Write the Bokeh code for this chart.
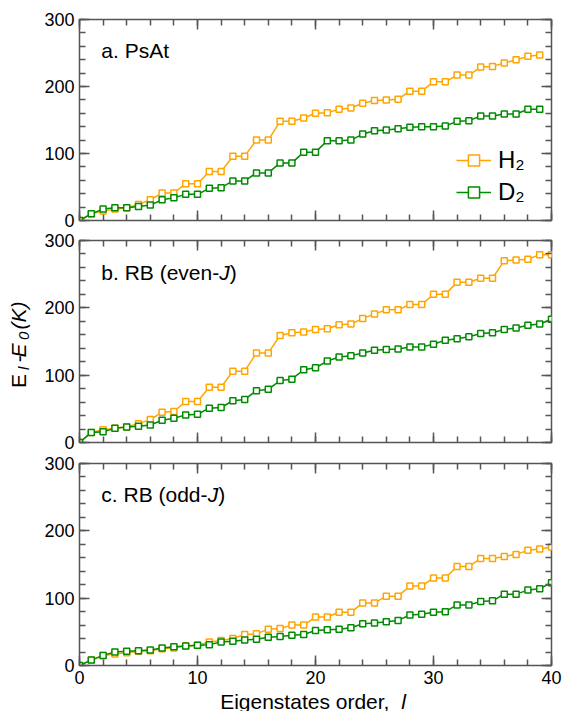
import math
from bokeh.plotting import figure
from bokeh.models import (LinearAxis, Range1d, SingleIntervalTicker, Label,
                          Legend, LegendItem, CustomJSTickFormatter)
from bokeh.layouts import column, row
from bokeh.embed import file_html
from bokeh.resources import INLINE

# ---------------- data ----------------
order_psat = list(range(40))
h2_psat = [0, 10, 14, 17, 19, 24, 31, 41, 41, 55, 55, 73, 73, 96, 96, 120, 120,
           148, 148, 153, 160, 161, 166, 168, 175, 179, 180, 181, 193, 193, 207,
           207, 217, 217, 229, 230, 235, 240, 245, 247]
d2_psat = [0, 10, 17, 19, 19, 21, 23, 31, 34, 39, 39, 48, 49, 59, 59, 71, 71,
           86, 86, 102, 102, 119, 119, 120, 129, 134, 135, 137, 139, 140, 140,
           141, 148, 149, 156, 156, 159, 159, 166, 166]

order_even = list(range(41))
h2_even = [0, 15, 19, 21, 23, 28, 34, 45, 46, 61, 61, 82, 82, 106, 106, 133, 133,
           159, 163, 164, 168, 169, 175, 176, 184, 191, 197, 197, 205, 205, 220,
           220, 238, 238, 244, 244, 270, 271, 272, 279, 279]
d2_even = [0, 15, 16, 21, 23, 24, 26, 33, 36, 41, 42, 51, 52, 62, 64, 77, 79,
           92, 94, 108, 111, 121, 127, 129, 133, 137, 138, 139, 142, 142, 146,
           152, 154, 157, 162, 163, 168, 170, 174, 176, 183]

order_odd = list(range(41))
h2_odd = [0, 8, 15, 17, 19, 21, 22, 25, 26, 29, 30, 35, 37, 40, 46, 47, 54, 55,
          60, 60, 72, 72, 79, 79, 93, 93, 103, 103, 118, 118, 130, 130, 147, 147,
          159, 159, 162, 165, 171, 173, 176]
d2_odd = [0, 8, 15, 20, 21, 22, 23, 26, 28, 29, 30, 31, 35, 36, 38, 39, 42, 43,
          45, 46, 52, 53, 54, 56, 62, 63, 65, 67, 75, 76, 79, 80, 90, 90, 95, 96,
          106, 106, 112, 114, 123]

x_ticks_interval = 10
y_ticks_interval = 100
series_names = ["H\u2082", "D\u2082"]

# ---------------- style ----------------
FONT = "Liberation Sans"
ORANGE = "#ffa500"
GREEN = "#008b00"
FRAME = "#555555"
STRIP = 34     # width of the y-title strip on the left
LEFT = 79 - STRIP  # left border of panels
FW = 472       # frame width


def style_axis(ax, interval, show_labels):
    ax.ticker = SingleIntervalTicker(interval=interval, num_minor_ticks=5)
    ax.axis_line_color = None
    ax.major_tick_in = 10
    ax.major_tick_out = 0
    ax.minor_tick_in = 6
    ax.minor_tick_out = 0
    ax.major_tick_line_color = FRAME
    ax.minor_tick_line_color = FRAME
    ax.major_tick_line_width = 1.5
    ax.minor_tick_line_width = 1.5
    ax.major_label_text_font = FONT
    ax.major_label_text_color = "black"
    if show_labels:
        ax.major_label_text_font_size = "18px"
        ax.major_label_standoff = 5
    else:
        ax.formatter = CustomJSTickFormatter(code="return ''")
        ax.major_label_text_font_size = "0px"
        ax.major_label_standoff = 0


def make_panel(xs, h2, d2, top, bottom, fh, show_x):
    p = figure(frame_width=FW, frame_height=fh, output_backend="svg",
               toolbar_location=None, x_range=Range1d(0, 40),
               y_range=Range1d(0, 300), min_border_left=LEFT,
               min_border_right=12, min_border_top=top,
               min_border_bottom=bottom, x_axis_location=None,
               y_axis_location=None)
    p.grid.visible = False
    p.outline_line_color = FRAME
    p.outline_line_width = 1.5
    bx = LinearAxis()
    style_axis(bx, x_ticks_interval, show_x)
    p.add_layout(bx, "below")
    tx = LinearAxis()
    style_axis(tx, x_ticks_interval, False)
    p.add_layout(tx, "above")
    ly = LinearAxis()
    style_axis(ly, y_ticks_interval, True)
    p.add_layout(ly, "left")
    ry = LinearAxis()
    style_axis(ry, y_ticks_interval, False)
    p.add_layout(ry, "right")

    lh = p.line(xs, h2, line_color=ORANGE, line_width=1.5)
    sh = p.scatter(xs, h2, marker="square", size=6, line_color=ORANGE,
                   line_width=1.5, fill_color="white")
    ld = p.line(xs, d2, line_color=GREEN, line_width=1.5)
    sd = p.scatter(xs, d2, marker="square", size=6, line_color=GREEN,
                   line_width=1.5, fill_color="white")
    return p, (lh, sh, ld, sd)


def lab(p, x, y, text, size="21px", style="normal", xo=0, yo=0, angle=0):
    p.add_layout(Label(x=x, y=y, text=text, text_font=FONT,
                       text_font_size=size, text_font_style=style,
                       text_color="black", text_baseline="middle",
                       text_align="left", x_offset=xo, y_offset=yo,
                       angle=angle))


p1, r1 = make_panel(order_psat, h2_psat, d2_psat, 19, 10, 201, False)
p2, r2 = make_panel(order_even, h2_even, d2_even, 10, 10, 202, False)
p3, r3 = make_panel(order_odd, h2_odd, d2_odd, 11, 28, 202, True)

# panel labels (y = vertical centre of the capitals)
lab(p1, 1.85, 253, "a. PsAt")
lab(p2, 1.85, 252.5, "b. RB (even-")
lab(p2, 1.85, 252.5, "J", style="italic", xo=118)
lab(p2, 1.85, 252.5, ")", xo=128.5)
lab(p3, 1.85, 254.5, "c. RB (odd-")
lab(p3, 1.85, 254.5, "J", style="italic", xo=106.5)
lab(p3, 1.85, 254.5, ")", xo=117)

# legend in panel a
legend = Legend(items=[LegendItem(label=series_names[0], renderers=[r1[0], r1[1]]),
                       LegendItem(label=series_names[1], renderers=[r1[2], r1[3]])],
                location=(377, 14), glyph_width=35, glyph_height=28,
                label_height=28, label_standoff=7, spacing=4, padding=0,
                margin=0, border_line_color=None, background_fill_alpha=0,
                label_text_font=FONT, label_text_font_size="24px",
                label_text_color="black")
p1.add_layout(legend)

# strip under the bottom panel for the x-axis title
tx = figure(frame_width=FW, frame_height=18, output_backend="svg",
            toolbar_location=None, x_range=p3.x_range, y_range=Range1d(0, 18),
            min_border_left=LEFT, min_border_right=12, min_border_top=0,
            min_border_bottom=0, x_axis_location=None, y_axis_location=None)
tx.grid.visible = False
tx.outline_line_color = None
lab(tx, 11.92, 10.5, "Eigenstates order, ")
lab(tx, 11.92, 10.5, "l", style="italic", xo=181)

# y-axis title strip (rotated), left of the panels
ty = figure(frame_width=STRIP, frame_height=711, output_backend="svg",
            toolbar_location=None, x_range=Range1d(0, STRIP),
            y_range=Range1d(0, 711), min_border_left=0, min_border_right=0,
            min_border_top=0, min_border_bottom=0, x_axis_location=None,
            y_axis_location=None)
ty.grid.visible = False
ty.outline_line_color = None
A = math.pi / 2
yx, yy = 18.3, 711 - 387.5
lab(ty, yx, yy, "E", angle=A)
lab(ty, yx, yy, "l", size="15px", style="italic", xo=5, yo=18, angle=A)
lab(ty, yx, yy, "-", yo=25.8, angle=A)
lab(ty, yx, yy, "E", style="italic", yo=30.5, angle=A)
lab(ty, yx, yy, "0", size="15px", style="italic", xo=5, yo=48, angle=A)
lab(ty, yx, yy, "(K)", style="italic", yo=58.5, angle=A)

layout = row(ty, column(p1, p2, p3, tx))
open("out.html", "w").write(file_html(layout, INLINE))
